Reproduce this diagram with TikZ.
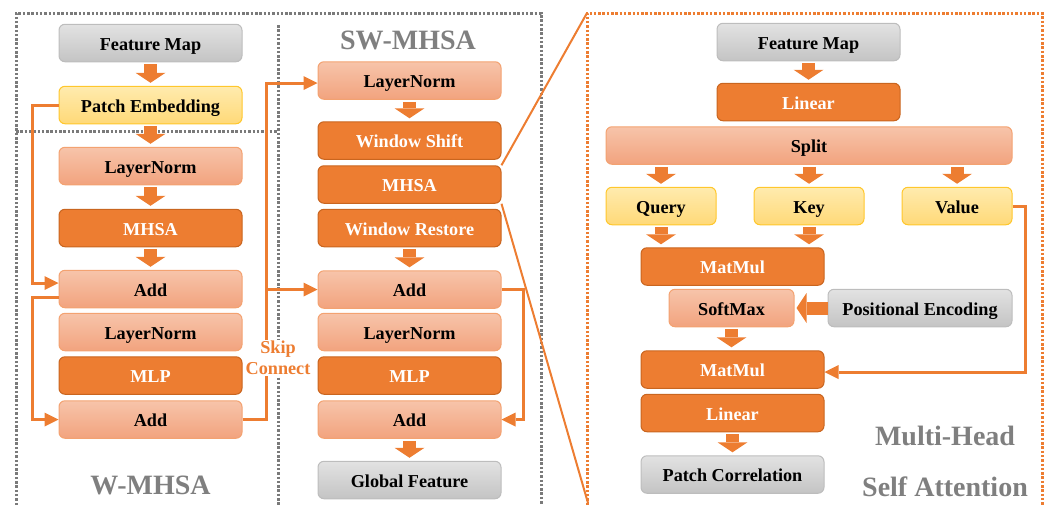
\documentclass[tikz,border=0pt]{standalone}
\usepackage{fontspec}
\setmainfont{Liberation Serif}
\usetikzlibrary{arrows.meta,calc}

\definecolor{org}{HTML}{ED7D31}
\definecolor{orgdark}{HTML}{C9651F}
\definecolor{sal1}{HTML}{F7C4AA}
\definecolor{sal2}{HTML}{F2A37E}
\definecolor{salline}{HTML}{F3A271}
\definecolor{yel1}{HTML}{FFEBAE}
\definecolor{yel2}{HTML}{FFD978}
\definecolor{yelline}{HTML}{FFC72C}
\definecolor{gry1}{HTML}{E2E2E2}
\definecolor{gry2}{HTML}{C4C4C4}
\definecolor{gryline}{HTML}{BDBDBD}
\definecolor{dotgray}{HTML}{7A7A7A}
\definecolor{titlegray}{HTML}{7F7F7F}

\tikzset{
  box/.style={rounded corners=6pt, minimum height=37.5pt, minimum width=183pt,
    inner sep=0pt, line width=1pt, text height=16pt, text depth=2pt,
    font=\fontsize{18.2}{20}\selectfont\bfseries},
  graynode/.style={box, top color=gry1, bottom color=gry2, draw=gryline},
  yelnode/.style={box, top color=yel1, bottom color=yel2, draw=yelline},
  salnode/.style={box, top color=sal1, bottom color=sal2, draw=salline},
  orgnode/.style={box, fill=org, draw=orgdark, text=white},
  title/.style={text=titlegray, font=\fontsize{28}{30}\selectfont\bfseries, inner sep=0pt},
  barrow/.style={draw=org, line width=13pt,
    -{Triangle[width=30pt,length=10pt,line width=0pt]},
    shorten <=2pt, shorten >=3pt},
  skip/.style={draw=org, line width=3pt, -{Triangle[width=14pt,length=14pt,line width=0pt]}},
  zoomline/.style={draw=org, line width=2pt},
  graydot/.style={draw=dotgray, line width=3pt, dash pattern=on 2.5pt off 1.8pt},
  orgdot/.style={draw=org, line width=3pt, dash pattern=on 2.5pt off 1.8pt},
}

\begin{document}
\begin{tikzpicture}[x=1pt,y=-1pt]
\useasboundingbox (0,0) rectangle (1049,507);

% dotted frames
\draw[graydot] (16,505) -- (16,13) -- (541,13) -- (541,505);
\draw[graydot] (278,25) -- (278,505);
\draw[graydot] (16,131) -- (278,131);
\draw[orgdot] (587,505) -- (587,13) -- (1042,13) -- (1042,505);
\coordinate (rtl) at (587,13);
\coordinate (rbl) at (588,503);

% W-MHSA column
\node[graynode] (fm1)  at (150.5,43)    {Feature Map};
\node[yelnode]  (pe1)  at (150.5,105)   {Patch Embedding};
\node[salnode]  (ln1)  at (150.5,166)   {LayerNorm};
\node[orgnode]  (mh1)  at (150.5,228)   {MHSA};
\node[salnode]  (add1) at (150.5,289)   {Add};
\node[salnode]  (ln2)  at (150.5,332)   {LayerNorm};
\node[orgnode]  (mlp1) at (150.5,375.5) {MLP};
\node[salnode]  (add2) at (150.5,419.5) {Add};
\node[title]    (t1)   at (150.5,485)   {W-MHSA};

% SW-MHSA column
\node[title]    (t2)     at (408,40)      {SW-MHSA};
\node[salnode]  (swln)   at (409.5,80.5)  {LayerNorm};
\node[orgnode]  (wsh)    at (409.5,140.5) {Window Shift};
\node[orgnode]  (swmh)   at (409.5,184.5) {MHSA};
\node[orgnode]  (wre)    at (409.5,228)   {Window Restore};
\node[salnode]  (swadd1) at (409.5,289.5) {Add};
\node[salnode]  (swln2)  at (409.5,332)   {LayerNorm};
\node[orgnode]  (swmlp)  at (409.5,375.5) {MLP};
\node[salnode]  (swadd2) at (409.5,419.5) {Add};
\node[graynode] (gf)     at (409.5,480)   {Global Feature};

% multi-head self attention
\node[graynode] (fm2)   at (808.5,42)  {Feature Map};
\node[orgnode]  (lin1)  at (808.5,102) {Linear};
\node[salnode, minimum width=406pt] (split) at (809,145.5) {Split};
\node[yelnode, minimum width=110pt] (q) at (661,206) {Query};
\node[yelnode, minimum width=110pt] (k) at (809,206) {Key};
\node[yelnode, minimum width=110pt] (v) at (957,206) {Value};
\node[orgnode]  (mm1)   at (732.5,266.5) {MatMul};
\node[salnode, minimum width=125pt] (sm) at (731.5,308) {SoftMax};
\node[graynode, minimum width=184pt] (penc) at (920,308) {Positional Encoding};
\node[orgnode]  (mm2)   at (732.5,369.5) {MatMul};
\node[orgnode]  (lin2)  at (732.5,413)   {Linear};
\node[graynode] (pc)    at (732.5,474.5) {Patch Correlation};
\node[title] (t3) at (945,436) {Multi-Head};
\node[title] (t4) at (945,487) {Self Attention};

% block arrows
\draw[barrow] (fm1) -- (pe1);
\draw[barrow] (pe1) -- (ln1);
\draw[barrow] (ln1) -- (mh1);
\draw[barrow] (mh1) -- (add1);
\draw[barrow] (swln) -- (wsh);
\draw[barrow] (wre) -- (swadd1);
\draw[barrow] (swadd2) -- (gf);
\draw[barrow] (fm2) -- (lin1);
\draw[barrow] (split.south -| q.north) -- (q.north);
\draw[barrow] (split.south -| k.north) -- (k.north);
\draw[barrow] (split.south -| v.north) -- (v.north);
\draw[barrow] (q.south) -- (q.south |- mm1.north);
\draw[barrow] (k.south) -- (k.south |- mm1.north);
\draw[barrow, shorten <=0pt, shorten >=2pt] (penc.west) -- (sm.east);
\draw[barrow] (sm.south) -- (sm.south |- mm2.north);
\draw[barrow] (lin2) -- (pc);

% residual connections
\draw[skip] (pe1.west) -- ++(-26,0) |- ([yshift=6pt]add1.west);
\draw[skip] ([yshift=-8pt]add1.west) -- ++(-26,0) |- (add2.west);
\draw[skip] (add2.east) -- ++(24,0) coordinate (skx) |- ([yshift=-2.5pt]swln.west);
\draw[skip] (skx |- swadd1.west) -- (swadd1.west);
\draw[skip] (swadd1.east) -- ++(22,0) |- (swadd2.east);
\draw[skip] (v.east) -- ++(13,0) |- ([yshift=-2.5pt]mm2.east);
\node[fill=white, inner sep=1pt, align=center, text=org,
      font=\fontsize{18.2}{21}\selectfont\bfseries] (skl) at (278,358) {Skip\\Connect};

% zoom lines
\draw[zoomline] (swmh.north east) -- (rtl);
\draw[zoomline] (swmh.south east) -- (rbl);
\end{tikzpicture}
\end{document}
